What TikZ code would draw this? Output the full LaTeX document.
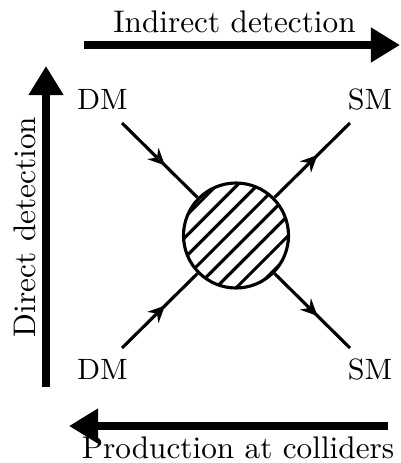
\documentclass[tikz,border=0pt]{standalone}
\usepackage{tikz}
\usetikzlibrary{arrows.meta,patterns.meta,decorations.markings}

\begin{document}
\begin{tikzpicture}[
  x=0.32pt,y=-0.32pt,
  lbl/.style={font=\fontsize{9.4}{11}\selectfont,anchor=base,inner sep=0pt},
  axislbl/.style={font=\fontsize{10}{12}\selectfont,anchor=base,inner sep=0pt},
  bigarr/.style={-{Triangle[length=9.3pt,width=10.6pt]},line width=2.7pt},
  blob/.style={draw,circle,minimum size=33.6pt,inner sep=0pt,line width=1pt,
    pattern={Lines[angle=45,distance=4.6pt,line width=1pt]}},
  fermion/.style={line width=1pt,postaction={decorate},
    decoration={markings,mark=at position 0.57 with {\arrow{Stealth[length=5.4pt,width=5pt,inset=1.8pt]}}}}
]
\useasboundingbox (0,0) rectangle (401,463);

% the three search strategies
\coordinate (indA) at (84,45);
\coordinate (indB) at (400,45);
\coordinate (dirA) at (46,387);
\coordinate (dirB) at (46,66);
\coordinate (colA) at (388,426);
\coordinate (colB) at (69,426);
\draw[bigarr] (indA) -- (indB);
\draw[bigarr] (dirA) -- (dirB);
\draw[bigarr] (colA) -- (colB);
\node[axislbl] (indlbl) at (234.5,32) {Indirect detection};
\node[axislbl,rotate=90] (dirlbl) at (36,227) {Direct detection};
\node[axislbl] (collbl) at (238,458) {Production at colliders};

% the interaction
\node[blob] (vertex) at (236,235.5) {};
\node[lbl] (dmA) at (102.5,109) {DM};
\node[lbl] (smA) at (370,109) {SM};
\node[lbl] (dmB) at (102.5,379) {DM};
\node[lbl] (smB) at (370,379) {SM};
\coordinate (dmAend) at (122,123);
\coordinate (smAend) at (350,123);
\coordinate (dmBend) at (122,348);
\coordinate (smBend) at (350,348);

\draw[fermion] (dmAend) -- (vertex);
\draw[fermion] (dmBend) -- (vertex);
\draw[fermion] (vertex) -- (smAend);
\draw[fermion] (vertex) -- (smBend);

\end{tikzpicture}
\end{document}
